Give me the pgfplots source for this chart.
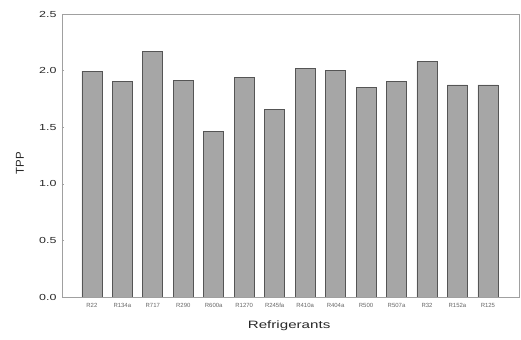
\documentclass[border=0pt]{standalone}
\usepackage{fontspec}
\setmainfont{Liberation Sans}
\usepackage{graphicx}
\usepackage{pgfplots}
\pgfplotsset{compat=1.18}
\definecolor{barfill}{RGB}{166,166,166}
\definecolor{baredge}{RGB}{85,85,85}
\definecolor{axisgray}{RGB}{160,160,160}
\definecolor{txt}{RGB}{40,40,40}
\begin{document}
\begin{tikzpicture}
\begin{axis}[
  at={(0,0)}, anchor=south west,
  scale only axis, width=457bp, height=283bp,
  xmin=-0.98, xmax=14.02, ymin=0, ymax=2.5,
  ybar, bar width=20bp,
  axis line style={axisgray, line width=0.8pt},
  tick align=inside,
  ytick pos=left,
  major tick length=2.5bp,
  y tick style={axisgray, line width=0.6pt},
  x tick style={draw=none},
  ytick={0,0.5,1,1.5,2,2.5},
  /pgf/number format/assume math mode=true,
  yticklabel={\scalebox{1.42}[1]{\pgfmathprintnumber[fixed,fixed zerofill,precision=1]{\tick}}},
  yticklabel style={font=\fontsize{8.8}{10}\selectfont, text=txt, xshift=-2bp},
  xtick={0,1,2,3,4,5,6,7,8,9,10,11,12,13},
  xticklabels={R22,R134a,R717,R290,R600a,R1270,R245fa,R410a,R404a,R500,R507a,R32,R152a,R125},
  xticklabel style={font=\fontsize{6}{7}\selectfont, text=black!60, yshift=-2.5bp},
  xlabel={\scalebox{1.42}[1]{Refrigerants}},
  xlabel style={font=\fontsize{10.7}{12}\selectfont, text=txt, at={(axis description cs:0.497,-0.1025)}, anchor=center},
  ylabel={TPP},
  ylabel style={font=\fontsize{11.5}{12}\selectfont, text=txt, at={(axis description cs:-0.092,0.4735)}, anchor=center},
]
\addplot[fill=barfill, draw=baredge, line width=0.6pt] coordinates {
  (0,1.996) (1,1.905) (2,2.167) (3,1.914) (4,1.464) (5,1.937) (6,1.655)
  (7,2.017) (8,2.005) (9,1.855) (10,1.905) (11,2.08) (12,1.873) (13,1.873)
};
\end{axis}
\path[use as bounding box] (-62bp,-43bp) rectangle (459bp,297bp);
\end{tikzpicture}
\end{document}
